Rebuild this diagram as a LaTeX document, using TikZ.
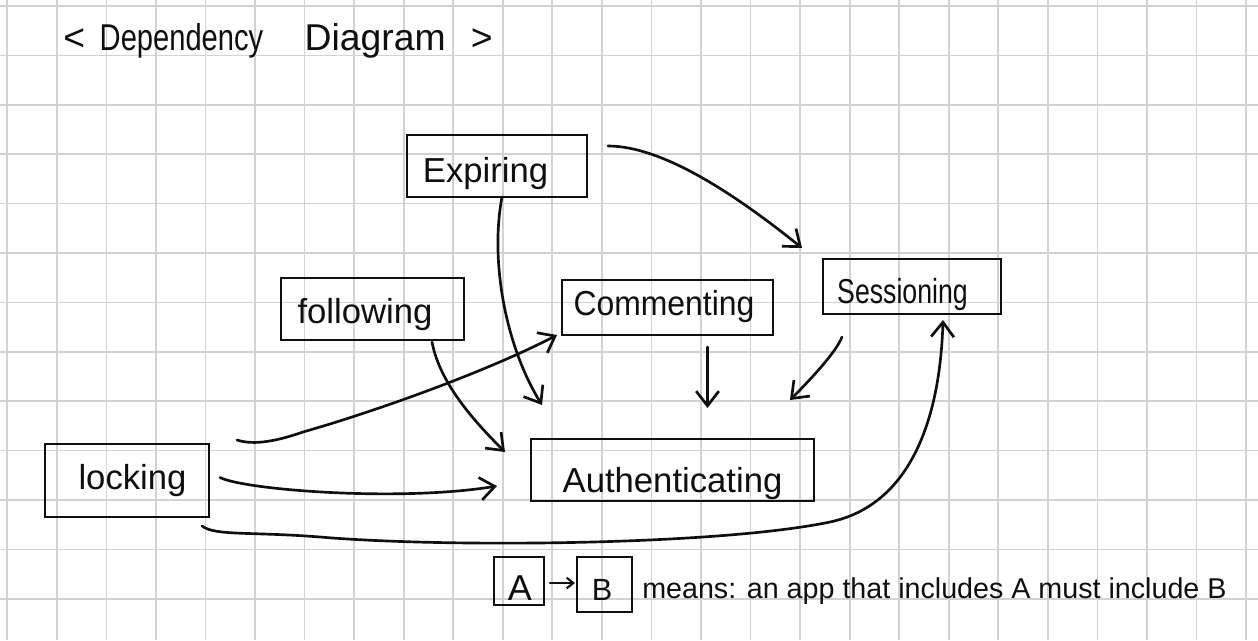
\documentclass[tikz,border=0pt]{standalone}
\usepackage{fontspec}
\setmainfont{Liberation Sans}
\usetikzlibrary{calc,arrows.meta}
\definecolor{gridgray}{RGB}{210,210,210}
\definecolor{ink}{RGB}{15,15,15}
\begin{document}
\begin{tikzpicture}[x=0.75pt,y=-0.75pt,
  gridline/.style={draw=gridgray,line width=1.3pt},
  box/.style={draw=ink,line width=2pt,rectangle,inner sep=0pt,outer sep=0pt},
  lbl/.style={inner sep=0pt,anchor=base,text=ink,font=\fontsize{#1}{#1}\selectfont},
  conn/.style={draw=ink,line width=2pt,line cap=round,-{Straight Barb[length=11pt,width=17pt,line width=2pt]}},
  smallconn/.style={draw=ink,line width=1.6pt,line cap=round,-{Straight Barb[length=5pt,width=8pt,line width=1.6pt]}}]
\useasboundingbox (0,0) rectangle (1258,640);
\fill[white] (0,0) rectangle (1258,640);
% grid
\foreach \i in {0,...,25} \draw[gridline] ({7.3+49.55*\i},0) -- ({7.3+49.55*\i},640);
\foreach \j in {0,...,12} \draw[gridline] (0,{6+49.4*\j}) -- (1258,{6+49.4*\j});
% title
\node[inner sep=0pt,anchor=base west,text=ink,font=\fontsize{28}{28}\selectfont] (title) at (63,50)
  {<\hspace{11pt}\scalebox{0.78}[1]{Dependency}\hspace{31pt}Diagram\hspace{19pt}>};
% boxes
\node[box,minimum width=135pt,minimum height=46.5pt] (expiring) at (497,166) {};
\node[box,minimum width=158.25pt,minimum height=41.25pt] (commenting) at (667.5,307.5) {};
\node[box,minimum width=133.5pt,minimum height=41.25pt] (sessioning) at (912,286.5) {};
\node[box,minimum width=137.25pt,minimum height=46.5pt] (following) at (372.5,309) {};
\node[box,minimum width=123pt,minimum height=54.75pt] (locking) at (127,480.5) {};
\node[box,minimum width=212.25pt,minimum height=46.5pt] (authenticating) at (672.5,470) {};
\node[box,minimum width=37.5pt,minimum height=36pt] (A) at (519,581) {};
\node[box,minimum width=41.25pt,minimum height=41.25pt] (B) at (604.5,584.5) {};
% box texts
\node[lbl=26] (expT) at (485.5,182) {Expiring};
\node[lbl=26] (commT) at (664,315) {\scalebox{0.92}[1]{Commenting}};
\node[lbl=26] (sessT) at (902.5,303) {\scalebox{0.77}[1]{Sessioning}};
\node[lbl=26] (folT) at (365,323) {following};
\node[lbl=26] (lockT) at (132.5,489) {locking};
\node[lbl=26] (authT) at (672.5,492) {Authenticating};
\node[lbl=27] (AT) at (520,600) {A};
\node[lbl=23] (BT) at (602,600) {B};
\node[inner sep=0pt,anchor=base west,text=ink,font=\fontsize{21.5}{21.5}\selectfont] (legend) at (642,598)
  {means: an app that includes A must include B};
% connectors
\draw[conn] ($(expiring.north east)+(21,11)$) .. controls (660,146) and (730,190) .. ($(sessioning.north west)+(-21,-11)$);
\draw[conn] ($(expiring.south)+(5,0)$) .. controls (490,260) and (505,345) .. ($(authenticating.north west)+(11,-34)$);
\draw[conn] ($(following.south east)+(-32,2)$) .. controls (440,385) and (478,425) .. ($(authenticating.west)+(-26,-18)$);
\draw[conn] ($(locking.north east)+(28,-4)$) .. controls (255,446) and (280,440) .. (303,432)
  .. controls (380,410) and (490,370) .. ($(commenting.south west)+(-5,0)$);
\draw[conn] ($(locking.east)+(11,-3)$) .. controls (245,490) and (400,502) .. ($(authenticating.west)+(-34,16)$);
\draw[conn] ($(locking.south east)+(-7,9)$) .. controls (215,536) and (250,531.5) .. (320,537)
  .. controls (450,548) and (720,545) .. (830,522)
  .. controls (910,505) and (940,420) .. ($(sessioning.south)+(31,6)$);
\draw[conn] ($(commenting.south)+(40,12)$) -- ($(authenticating.north)+(35,-31)$);
\draw[conn] ($(sessioning.south west)+(19,23)$) .. controls (836,352) and (812,378) .. ($(authenticating.north east)+(-24,-39)$);
\draw[smallconn] ($(A.east)+(6,2)$) -- ($(B.west)+(-2,-1.5)$);
\end{tikzpicture}
\end{document}
